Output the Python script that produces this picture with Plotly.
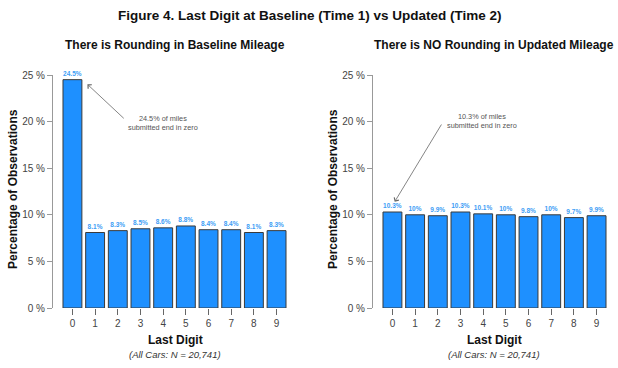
import plotly.graph_objects as go
from plotly.subplots import make_subplots

digits = ["0", "1", "2", "3", "4", "5", "6", "7", "8", "9"]
baseline_pct = [24.5, 8.1, 8.3, 8.5, 8.6, 8.8, 8.4, 8.4, 8.1, 8.3]
updated_pct = [10.3, 10.0, 9.9, 10.3, 10.1, 10.0, 9.8, 10.0, 9.7, 9.9]
y_ticks = [0, 5, 10, 15, 20, 25]

W, H = 618, 368
FONT = "Liberation Sans, Arial, sans-serif"
BLUE = "#1E90FF"

def px_x(p):
    return p / W

def px_y(p):
    return 1 - p / H

fig = make_subplots(rows=1, cols=2)

for col, vals in ((1, baseline_pct), (2, updated_pct)):
    fig.add_trace(go.Bar(
        x=digits, y=vals,
        marker=dict(color=BLUE, line=dict(color="#3a3a3a", width=1)),
        text=[f"<b>{v:g}%</b>" for v in vals],
        textposition="outside",
        textfont=dict(family=FONT, size=6.5, color="#3d9df5"),
        cliponaxis=False,
        showlegend=False,
        hoverinfo="skip",
    ), row=1, col=col)

y_dom = [px_y(308), px_y(75)]
fig.update_layout(
    width=W, height=H,
    margin=dict(l=0, r=0, t=0, b=0),
    paper_bgcolor="white", plot_bgcolor="white",
    bargap=0.167,
    uniformtext=dict(minsize=4),
    font=dict(family=FONT, color="#222222"),
    xaxis=dict(domain=[px_x(53), px_x(296)]),
    xaxis2=dict(domain=[px_x(373), px_x(616)]),
    yaxis=dict(domain=y_dom),
    yaxis2=dict(domain=y_dom),
)

for ax in ("xaxis", "xaxis2"):
    fig.layout[ax].update(
        type="category", range=[-0.857, 9.857], showgrid=False, zeroline=False,
        showline=False, ticks="outside", ticklen=6, tickcolor="#666666",
        tickfont=dict(size=10, color="#444444"), automargin=False, fixedrange=True,
    )
for ax in ("yaxis", "yaxis2"):
    fig.layout[ax].update(
        range=[0, 25], tickvals=y_ticks, ticktext=[f"{t} %" for t in y_ticks],
        showgrid=False, zeroline=False, showline=True, linecolor="#999999",
        linewidth=1, ticks="outside", ticklen=5, tickcolor="#999999",
        tickfont=dict(size=10, color="#444444"), automargin=False, fixedrange=True,
    )

def txt(x, y, s, size, bold=False, italic=False, color="#111111", angle=0, xanchor="center"):
    if bold:
        s = f"<b>{s}</b>"
    if italic:
        s = f"<i>{s}</i>"
    fig.add_annotation(xref="paper", yref="paper", x=px_x(x), y=px_y(y), text=s,
                       showarrow=False, font=dict(family=FONT, size=size, color=color),
                       textangle=angle, xanchor=xanchor, yanchor="middle")

txt(310, 15, "Figure 4. Last Digit at Baseline (Time 1) vs Updated (Time 2)", 13.5, bold=True)
txt(175, 45, "There is Rounding in Baseline Mileage", 12, bold=True)
txt(494, 45, "There is NO Rounding in Updated Mileage", 12, bold=True)
for cx, yx in ((175, 13), (494, 333)):
    txt(cx, 340, "Last Digit", 12, bold=True)
    txt(cx, 354, "(All Cars: N = 20,741)", 9.5, italic=True, color="#333333")
    txt(yx, 189, "Percentage of Observations", 12, bold=True, angle=-90)

# arrows
fig.add_annotation(xref="x", yref="y", axref="x", ayref="y",
                   x=0.66, y=24.0, ax=2.33, ay=20.2, text="", showarrow=True,
                   arrowhead=4, arrowsize=1.3, arrowwidth=0.8, arrowcolor="#666666")
fig.add_annotation(xref="x2", yref="y2", axref="x2", ayref="y2",
                   x=0.1, y=11.4, ax=2.2, ay=19.85, text="", showarrow=True,
                   arrowhead=4, arrowsize=1.3, arrowwidth=0.8, arrowcolor="#666666")
txt(126, 123, "24.5% of miles<br>submitted end in zero", 7.3, color="#555555", xanchor="left")
txt(445, 121, "10.3% of miles<br>submitted end in zero", 7.3, color="#555555", xanchor="left")

fig.write_html("out.html", config={"displayModeBar": False},
               post_script="document.body.style.margin='0';")
